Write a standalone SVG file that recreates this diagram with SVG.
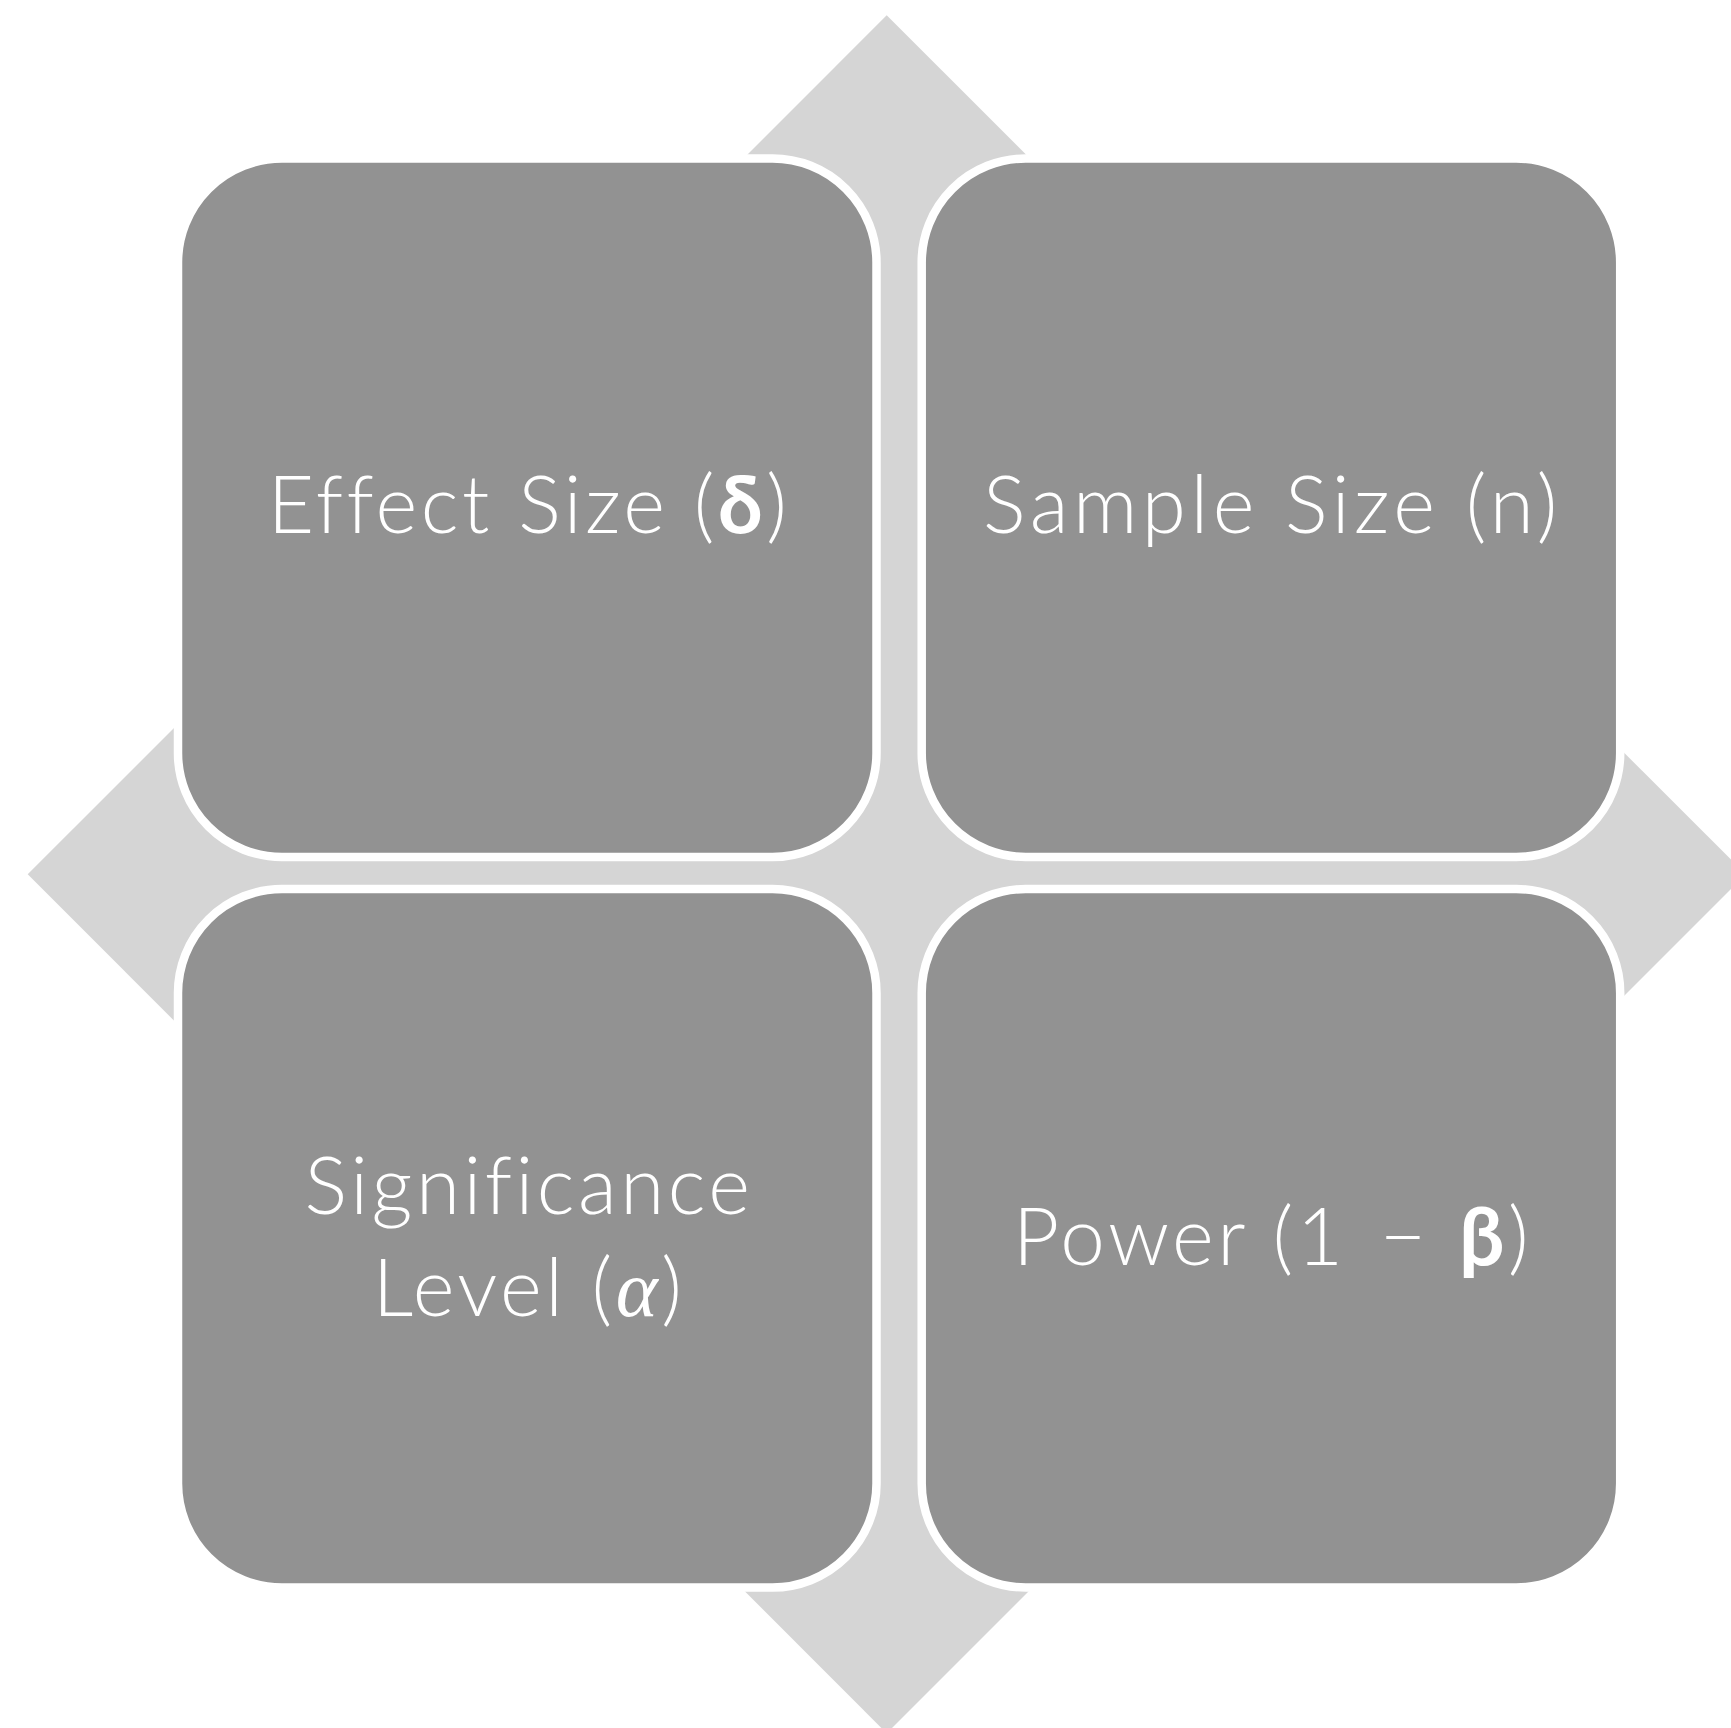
<svg xmlns="http://www.w3.org/2000/svg" width="1731" height="1728" viewBox="0 0 1731 1728">
<style>
.box{fill:#929292;stroke:#ffffff;stroke-width:8.5}
.lbl{font-family:Lato,"Open Sans","Liberation Sans",sans-serif;font-size:80px;font-weight:300;fill:#ffffff;text-anchor:middle;letter-spacing:3.5px;font-variant-ligatures:none}
.wide{letter-spacing:4.5px}
.b{font-weight:bold}
.it{font-family:"Liberation Serif","DejaVu Serif",serif;font-style:italic;font-weight:normal}
</style>
<rect width="1731" height="1728" fill="#ffffff"/>
<g id="connectors">
<polygon points="886.7,15.3 1745.7,874.3 886.7,1733.3 27.7,874.3" fill="#d5d5d5"/>
</g>
<g id="node-effect-size">
<rect class="box" x="178" y="158.5" width="698.5" height="698.5" rx="104" ry="104"/>
<text class="lbl" x="529" y="533">Effect Size (<tspan class="b">δ</tspan>)</text>
</g>
<g id="node-sample-size">
<rect class="box" x="921.7" y="158.5" width="698.5" height="698.5" rx="104" ry="104"/>
<text class="lbl wide" x="1272.5" y="533">Sample Size (n)</text>
</g>
<g id="node-significance">
<rect class="box" x="178" y="889" width="698.5" height="698.5" rx="104" ry="104"/>
<text class="lbl" x="529" y="1214">Significance</text>
<text class="lbl" x="529" y="1316">Level (<tspan class="it">α</tspan>)</text>
</g>
<g id="node-power">
<rect class="box" x="921.7" y="889" width="698.5" height="698.5" rx="104" ry="104"/>
<text class="lbl" x="1272.5" y="1265">Power (1 <tspan dx="8">−</tspan> <tspan class="b" dx="4">β</tspan>)</text>
</g>
</svg>
